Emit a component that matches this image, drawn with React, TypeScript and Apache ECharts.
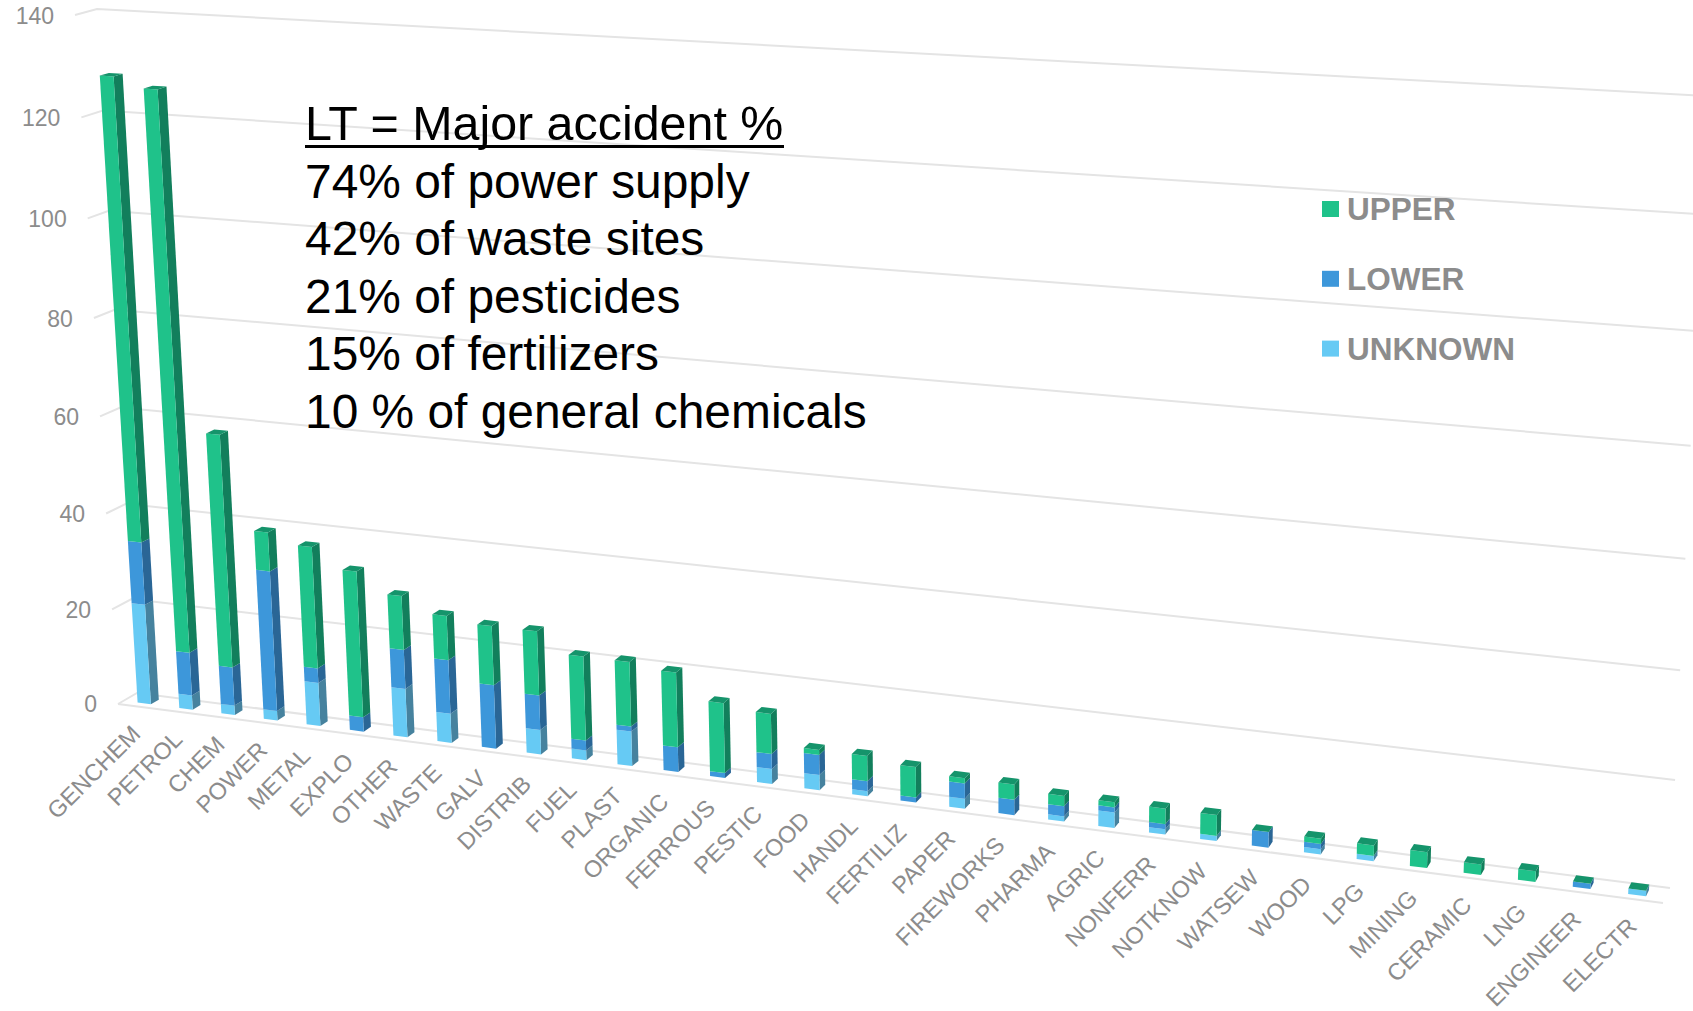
import React, { useEffect, useRef } from "react";
import * as echarts from "echarts";

const categories = ["GENCHEM","PETROL","CHEM","POWER","METAL","EXPLO","OTHER","WASTE","GALV","DISTRIB","FUEL","PLAST","ORGANIC","FERROUS","PESTIC","FOOD","HANDL","FERTILIZ","PAPER","FIREWORKS","PHARMA","AGRIC","NONFERR","NOTKNOW","WATSEW","WOOD","LPG","MINING","CERAMIC","LNG","ENGINEER","ELECTR"];
const unknownValues = [21,3,2,2,9,0,10,6,0,5,2,7,0,0,3,3,1,0,2,0,1,3,1,1,0,1,1,0,0,0,0,1];
const lowerValues = [13,9,8,29,3,3,8,11,13,7,2,1,5,1,3,4,2,1,3,3,2,1,1,0,3,1,0,0,0,0,1,0];
const upperValues = [94,114,48,8,25,30,11,9,12,13,17,13,15,14,8,1,5,6,1,3,2,1,3,4,0,1,2,3,2,2,0,0];
const yTicks = [0,20,40,60,80,100,120,140];
const annotationTitle = "LT = Major accident %";
const annotationLines = ["74% of power supply","42% of waste sites","21% of pesticides","15% of fertilizers","10 % of general chemicals"];

const W = 1693, H = 1011;
const FONT = '"Liberation Sans", Arial, sans-serif';
const GRAY = "#8C8C8C";
const GRID = "#E4E4E4";

type P = [number, number];
function makeHomography(p0: P, p1: P, p2: P, p3: P) {
  const dx1 = p1[0]-p2[0], dx2 = p3[0]-p2[0], sx = p0[0]-p1[0]+p2[0]-p3[0];
  const dy1 = p1[1]-p2[1], dy2 = p3[1]-p2[1], sy = p0[1]-p1[1]+p2[1]-p3[1];
  const det = dx1*dy2-dx2*dy1;
  const g = (sx*dy2-dx2*sy)/det, h = (dx1*sy-sx*dy1)/det;
  const a = p1[0]-p0[0]+g*p1[0], b = p3[0]-p0[0]+h*p3[0], c = p0[0];
  const d = p1[1]-p0[1]+g*p1[1], e = p3[1]-p0[1]+h*p3[1], f = p0[1];
  return (u: number, t: number): P => {
    const q = g*u+h*t+1;
    return [(a*u+b*t+c)/q, (d*u+e*t+f)/q];
  };
}
// back wall and front plane of the perspective box: bottom-left, bottom-right, top-right, top-left
const backWall = makeHomography([137,693],[1670,888],[1707,96],[97,9]);
const frontWall = makeHomography([118,704],[1663,903],[1697,106],[75,15]);
// u,t are grid fractions coming from the cartesian axes; w = 0 back, 1 front
function project(u: number, t: number, w: number): P {
  const b = backWall(u,t), f = frontWall(u,t);
  return [b[0]+(f[0]-b[0])*w, b[1]+(f[1]-b[1])*w];
}
const BAR_W = 0.32, W_FRONT = 0.71, W_BACK = 0.29;

function barSeries(name: string, start: number[], values: number[], front: string, side: string, top: string | null) {
  return {
    type: "custom", name, coordinateSystem: "cartesian2d", itemStyle: { color: front }, silent: true,
    encode: { x: 0, y: [1, 2] },
    data: values.map((v, i) => [i, start[i], start[i] + v]),
    renderItem: (_: any, api: any) => {
      const i = api.value(0);
      const a = api.coord([i, api.value(1)]);
      const b = api.coord([i, api.value(2)]);
      const band = api.size([1, 0])[0];
      const uL = (a[0]-band*BAR_W/2)/W, uR = (a[0]+band*BAR_W/2)/W;
      const t0 = 1-a[1]/H, t1 = 1-b[1]/H;
      const children: any[] = [];
      if (t1 > t0) {
        children.push({ type: "polygon", shape: { points: [project(uR,t0,W_FRONT),project(uR,t0,W_BACK),project(uR,t1,W_BACK),project(uR,t1,W_FRONT)] }, style: { fill: side } });
        children.push({ type: "polygon", shape: { points: [project(uL,t0,W_FRONT),project(uR,t0,W_FRONT),project(uR,t1,W_FRONT),project(uL,t1,W_FRONT)] }, style: { fill: front } });
      }
      if (top) children.push({ type: "polygon", shape: { points: [project(uL,t1,W_FRONT),project(uR,t1,W_FRONT),project(uR,t1,W_BACK),project(uL,t1,W_BACK)] }, style: { fill: top } });
      return { type: "group", children };
    },
  };
}

export default function App() {
  const ref = useRef<HTMLDivElement>(null);
  useEffect(() => {
    const chart = echarts.init(ref.current!, undefined, { renderer: "svg" });
    const zeros = categories.map(() => 0);
    const lowerBase = unknownValues.slice();
    const upperBase = unknownValues.map((v, i) => v + lowerValues[i]);
    const titleX = 305, lineStep = 57.6, firstBase = 147;
    chart.setOption({
      animation: false,
      backgroundColor: "#fff",
      grid: { left: 0, right: 0, top: 0, bottom: 0 },
      xAxis: { type: "category", data: categories, show: false },
      yAxis: { type: "value", min: 0, max: 140, interval: 20, show: false },
      legend: {
        data: ["UPPER","LOWER","UNKNOWN"], orient: "vertical", left: 1317, top: 188, icon: "rect",
        itemWidth: 17, itemHeight: 16, itemGap: 37.8, selectedMode: false,
        textStyle: { color: GRAY, fontWeight: "bold", fontSize: 31.5, fontFamily: FONT, lineHeight: 16, padding: [0,0,0,3] },
      },
      series: [
        {
          type: "custom", name: "grid", silent: true, coordinateSystem: "cartesian2d", encode: { x: 0, y: 1 },
          data: yTicks.map((v) => [0, v]),
          renderItem: (_: any, api: any) => {
            const val = api.value(1);
            const c = api.coord([0, val]);
            const t = 1-c[1]/H;
            const A = frontWall(0,t), B = backWall(0,t), C = backWall(1,t);
            const line = { stroke: GRID, lineWidth: 2, fill: "none" };
            const children: any[] = [
              { type: "polyline", shape: { points: [A,B,C] }, style: line },
              { type: "text", style: { text: String(val), x: A[0]-21, y: A[1]+(val === 0 ? 0 : 1), align: "right", verticalAlign: "middle", fill: GRAY, font: `23px ${FONT}` } },
            ];
            if (val === 0) children.push({ type: "line", shape: { x1: A[0], y1: A[1], x2: frontWall(1,0)[0], y2: frontWall(1,0)[1] }, style: { stroke: GRID, lineWidth: 2 } });
            return { type: "group", children };
          },
        },
        {
          type: "custom", name: "axisLabels", silent: true, coordinateSystem: "cartesian2d", encode: { x: 0, y: 1 },
          data: categories.map((_, i) => [i, 0]),
          renderItem: (_: any, api: any) => {
            const i = api.value(0);
            const c = api.coord([i, 0]);
            const p = frontWall(c[0]/W, 0);
            return { type: "text", x: p[0]-2.5, y: p[1]+23, rotation: Math.PI/4, style: { text: categories[i], x: 0, y: 0, align: "right", verticalAlign: "middle", fill: GRAY, font: `23.5px ${FONT}` } };
          },
        },
        barSeries("UNKNOWN", zeros, unknownValues, "#66CAF4", "#46829E", null),
        barSeries("LOWER", lowerBase, lowerValues, "#3D97DA", "#2A6696", null),
        barSeries("UPPER", upperBase, upperValues, "#1FC28A", "#127F5C", "#15946B"),
      ],
      graphic: [
        { type: "text", z: 50, x: titleX, y: firstBase, style: { text: annotationTitle, fill: "#000", font: `48.4px ${FONT}`, verticalAlign: "bottom" } },
        { type: "rect", z: 50, shape: { x: titleX, y: 145, width: 479, height: 3 }, style: { fill: "#000" } },
        ...annotationLines.map((s, i) => ({
          type: "text", z: 50, x: titleX, y: firstBase + 0.5 + lineStep*(i+1), style: { text: s, fill: "#000", font: `47.9px ${FONT}`, verticalAlign: "bottom" },
        })),
      ],
    });
    return () => chart.dispose();
  }, []);
  return <div ref={ref} style={{ position: "fixed", left: 0, top: 0, width: W, height: H, background: "#fff" }} />;
}
